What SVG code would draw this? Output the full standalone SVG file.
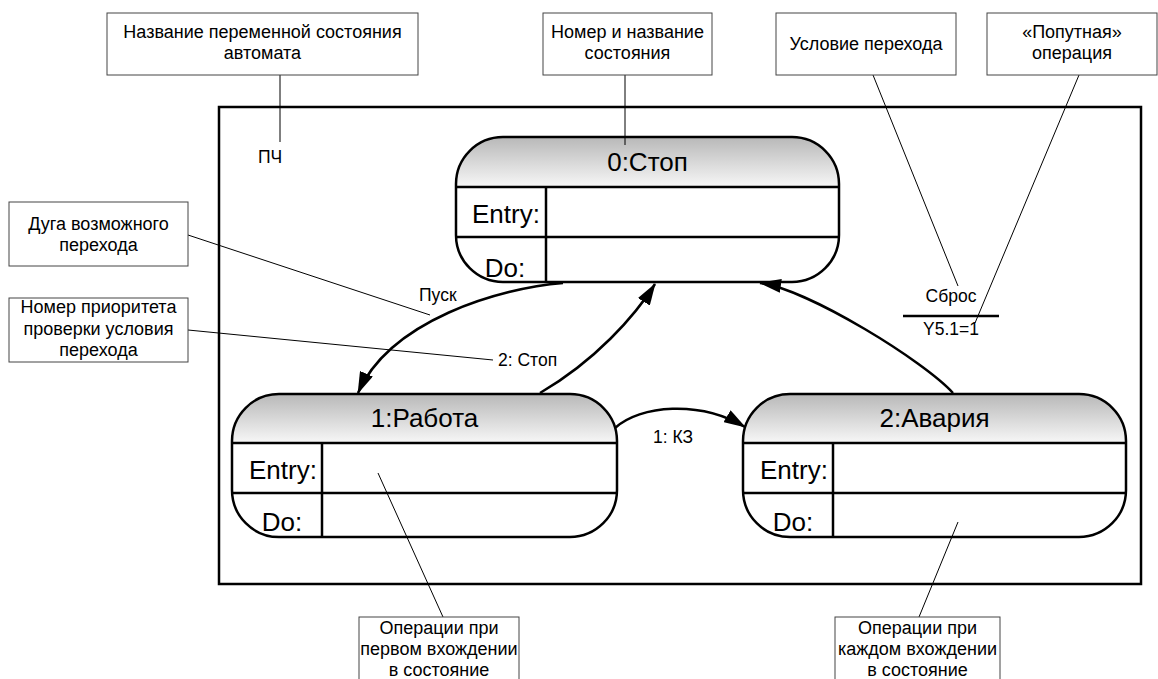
<svg xmlns="http://www.w3.org/2000/svg" width="1158" height="679" viewBox="0 0 1158 679">
  <defs>
    <linearGradient id="hdr" x1="0" y1="0" x2="0" y2="1">
      <stop offset="0" stop-color="#b8b8b8"/>
      <stop offset="1" stop-color="#f7f7f7"/>
    </linearGradient>
    <marker id="arrow" viewBox="0 0 22 14" refX="21" refY="7" markerWidth="22" markerHeight="14" markerUnits="userSpaceOnUse" orient="auto">
      <path d="M0,0 L22,7 L0,14 Z" fill="#000"/>
    </marker>
    <style>
      text { font-family: "Liberation Sans", Arial, sans-serif; fill: #000; }
      .note rect { fill: #fff; stroke: #444; stroke-width: 1; }
      .note text { font-size: 18px; text-anchor: middle; }
      .lead { stroke: #000; stroke-width: 1; fill: none; }
      .frame { fill: none; stroke: #000; stroke-width: 2.5; }
      .body { fill: #fff; stroke: none; }
      .head { fill: url(#hdr); stroke: none; }
      .edge { fill: none; stroke: #000; stroke-width: 2.5; }
      .sep { stroke: #000; stroke-width: 2.5; }
      .title { font-size: 26px; text-anchor: middle; }
      .slot { font-size: 26px; text-anchor: middle; }
      .lbl { font-size: 17.5px; }
      .arc { fill: none; stroke: #000; stroke-width: 2.5; marker-end: url(#arrow); }
    </style>
  </defs>

  <rect width="1158" height="679" fill="#fff"/>

  <!-- automaton frame -->
  <rect class="frame" x="219" y="107" width="922" height="477"/>
  <text class="lbl" x="270" y="163" text-anchor="middle">ПЧ</text>

  <!-- state 0 -->
  <g id="state0">
    <path class="body" d="M503,137 H792 A47,47 0 0 1 839,184 V235 A47,47 0 0 1 792,282 H503 A47,47 0 0 1 456,235 V184 A47,47 0 0 1 503,137 Z"/>
    <path class="head" d="M456,187 V184 A47,47 0 0 1 503,137 H792 A47,47 0 0 1 839,184 V187 Z"/>
    <line class="sep" x1="456" y1="187" x2="839" y2="187"/>
    <line class="sep" x1="456" y1="237" x2="839" y2="237"/>
    <line class="sep" x1="546" y1="187" x2="546" y2="282"/>
    <path class="edge" d="M503,137 H792 A47,47 0 0 1 839,184 V235 A47,47 0 0 1 792,282 H503 A47,47 0 0 1 456,235 V184 A47,47 0 0 1 503,137 Z"/>
    <text class="title" x="647.5" y="171">0:Стоп</text>
    <text class="slot" x="506" y="223">Entry:</text>
    <text class="slot" x="505" y="277">Do:</text>
  </g>

  <!-- state 1 -->
  <g id="state1">
    <path class="body" d="M279,394 H570 A47,47 0 0 1 617,441 V490 A47,47 0 0 1 570,537 H279 A47,47 0 0 1 232,490 V441 A47,47 0 0 1 279,394 Z"/>
    <path class="head" d="M232,443 V441 A47,47 0 0 1 279,394 H570 A47,47 0 0 1 617,441 V443 Z"/>
    <line class="sep" x1="232" y1="443" x2="617" y2="443"/>
    <line class="sep" x1="232" y1="493" x2="617" y2="493"/>
    <line class="sep" x1="322" y1="443" x2="322" y2="537"/>
    <path class="edge" d="M279,394 H570 A47,47 0 0 1 617,441 V490 A47,47 0 0 1 570,537 H279 A47,47 0 0 1 232,490 V441 A47,47 0 0 1 279,394 Z"/>
    <text class="title" x="424.5" y="427">1:Работа</text>
    <text class="slot" x="283" y="479">Entry:</text>
    <text class="slot" x="282" y="531">Do:</text>
  </g>

  <!-- state 2 -->
  <g id="state2">
    <path class="body" d="M790,394 H1079 A47,47 0 0 1 1126,441 V490 A47,47 0 0 1 1079,537 H790 A47,47 0 0 1 743,490 V441 A47,47 0 0 1 790,394 Z"/>
    <path class="head" d="M743,443 V441 A47,47 0 0 1 790,394 H1079 A47,47 0 0 1 1126,441 V443 Z"/>
    <line class="sep" x1="743" y1="443" x2="1126" y2="443"/>
    <line class="sep" x1="743" y1="493" x2="1126" y2="493"/>
    <line class="sep" x1="833" y1="443" x2="833" y2="537"/>
    <path class="edge" d="M790,394 H1079 A47,47 0 0 1 1126,441 V490 A47,47 0 0 1 1079,537 H790 A47,47 0 0 1 743,490 V441 A47,47 0 0 1 790,394 Z"/>
    <text class="title" x="934.5" y="427">2:Авария</text>
    <text class="slot" x="794" y="479">Entry:</text>
    <text class="slot" x="793" y="531">Do:</text>
  </g>

  <!-- transitions -->
  <g id="connectors">
    <path class="arc" d="M563,283 C500,288 390,320 358,393"/>
    <path class="arc" d="M540,393 C595,361 635,316 655,284"/>
    <path class="arc" d="M615,428 C640,405 700,400 745,427"/>
    <path class="arc" d="M953,393 C925,362 810,290 760,283"/>
    <text class="lbl" x="419" y="301">Пуск</text>
    <text class="lbl" x="498" y="366">2: Стоп</text>
    <text class="lbl" x="653" y="443">1: КЗ</text>
    <text class="lbl" x="951" y="302" text-anchor="middle">Сброс</text>
    <line x1="903" y1="316" x2="999" y2="316" stroke="#000" stroke-width="2.5"/>
    <text class="lbl" x="951" y="335" text-anchor="middle">Y5.1=1</text>
  </g>

  <!-- callout leaders -->
  <g id="leaders">
    <line class="lead" x1="280" y1="75" x2="280" y2="142"/>
    <line class="lead" x1="625" y1="75" x2="625" y2="145"/>
    <line class="lead" x1="873" y1="75" x2="958" y2="286"/>
    <line class="lead" x1="1079" y1="75" x2="975" y2="323"/>
    <line class="lead" x1="188" y1="235" x2="430" y2="315"/>
    <line class="lead" x1="188" y1="330" x2="493" y2="360"/>
    <line class="lead" x1="378" y1="473" x2="443" y2="617"/>
    <line class="lead" x1="958" y1="522" x2="919" y2="617"/>
  </g>

  <!-- callouts -->
  <g id="note-var" class="note">
    <rect x="107" y="13" width="311" height="62"/>
    <text x="262.5" y="38">Название переменной состояния</text>
    <text x="262.5" y="59">автомата</text>
  </g>
  <g id="note-state" class="note">
    <rect x="543" y="13" width="169" height="62"/>
    <text x="627.5" y="38">Номер и название</text>
    <text x="627.5" y="59">состояния</text>
  </g>
  <g id="note-cond" class="note">
    <rect x="776" y="13" width="180" height="62"/>
    <text x="866" y="50">Условие перехода</text>
  </g>
  <g id="note-op" class="note">
    <rect x="987" y="13" width="170" height="62"/>
    <text x="1072" y="38">«Попутная»</text>
    <text x="1072" y="59">операция</text>
  </g>
  <g id="note-arc" class="note">
    <rect x="9" y="202" width="179" height="64"/>
    <text x="98.5" y="230">Дуга возможного</text>
    <text x="98.5" y="251">перехода</text>
  </g>
  <g id="note-prio" class="note">
    <rect x="9" y="298" width="179" height="64"/>
    <text x="98.5" y="313">Номер приоритета</text>
    <text x="98.5" y="335">проверки условия</text>
    <text x="98.5" y="356">перехода</text>
  </g>
  <g id="note-entry" class="note">
    <rect x="359" y="617" width="160" height="70"/>
    <text x="439" y="634">Операции при</text>
    <text x="439" y="655">первом вхождении</text>
    <text x="439" y="676">в состояние</text>
  </g>
  <g id="note-do" class="note">
    <rect x="835" y="617" width="165" height="70"/>
    <text x="917.5" y="634">Операции при</text>
    <text x="917.5" y="655">каждом вхождении</text>
    <text x="917.5" y="676">в состояние</text>
  </g>
</svg>
